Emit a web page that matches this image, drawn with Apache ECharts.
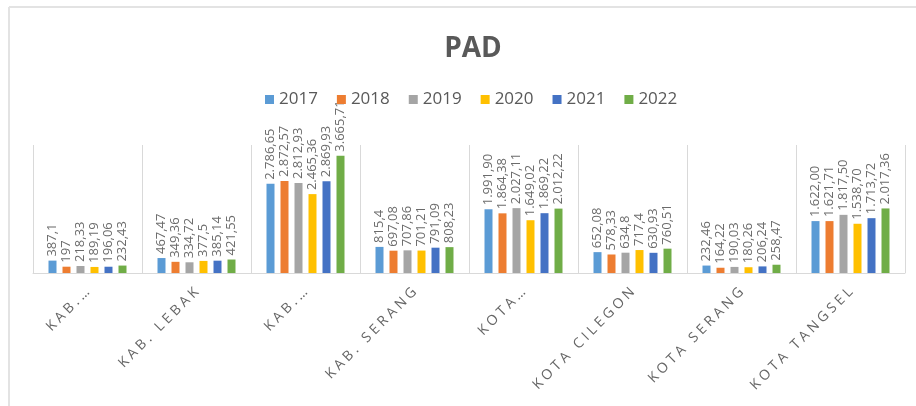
<!DOCTYPE html>
<html lang="en">
<head>
    <meta charset="UTF-8">
    <title>PAD</title>
    <script src="https://cdn.jsdelivr.net/npm/echarts@6/dist/echarts.min.js"></script>
    <style>
        html, body { margin: 0; padding: 0; background: #fff; }
        #chart { width: 916px; height: 406px; }
    </style>
</head>
<body>
<div id="chart"></div>
<script>
  // kabupaten / kota
  var categories = ['KAB.…', 'KAB. LEBAK', 'KAB.…', 'KAB. SERANG', 'KOTA…', 'KOTA CILEGON', 'KOTA SERANG', 'KOTA TANGSEL'];

  var years = ['2017', '2018', '2019', '2020', '2021', '2022'];

  var pad2017 = [387.1, 467.47, 2786.65, 815.4, 1991.90, 652.08, 232.46, 1622.00];
  var pad2018 = [197, 349.36, 2872.57, 697.08, 1864.38, 578.33, 164.22, 1621.71];
  var pad2019 = [218.33, 334.72, 2812.93, 707.86, 2027.11, 634.8, 190.03, 1817.50];
  var pad2020 = [189.19, 377.5, 2465.36, 701.21, 1649.02, 717.4, 180.26, 1538.70];
  var pad2021 = [196.06, 385.14, 2869.93, 791.09, 1869.22, 630.93, 206.24, 1713.72];
  var pad2022 = [232.43, 421.55, 3665.71, 808.23, 2012.22, 760.51, 258.47, 2017.36];

  var colors = ['#5B9BD5', '#ED7D31', '#A5A5A5', '#FFC000', '#4472C4', '#70AD47'];
  var font = 'Open Sans';

  // 2.786,65 style for thousands, 387,1 style below that
  function fmt(v) {
    if (v >= 1000) {
      var p = v.toFixed(2).split('.');
      return p[0].replace(/\B(?=(\d{3})+(?!\d))/g, '.') + ',' + p[1];
    }
    return String(v).replace('.', ',');
  }

  // excel draws the category names with wide tracking
  function spaced(s) {
    return s.split('').join('\u2005');
  }

  var allData = [pad2017, pad2018, pad2019, pad2020, pad2021, pad2022];

  var series = years.map(function (y, i) {
    return {
      name: y,
      type: 'bar',
      data: allData[i],
      barWidth: 8,
      barGap: '75%',
      itemStyle: { color: colors[i] },
      label: {
        show: true,
        position: 'top',
        rotate: 90,
        align: 'left',
        verticalAlign: 'middle',
        distance: 4,
        color: '#6b6b6b',
        fontFamily: font,
        fontSize: 13,
        formatter: function (p) { return fmt(p.value); }
      }
    };
  });

  var myChart = echarts.init(document.getElementById('chart'));

  myChart.setOption({
    animation: false,
    title: {
      text: 'PAD',
      left: 468,
      top: 30,
      textAlign: 'center',
      textStyle: { color: '#595959', fontSize: 28, fontWeight: 'bold', fontFamily: font }
    },
    legend: {
      data: years,
      left: 265,
      top: 91,
      padding: 0,
      itemWidth: 9,
      itemHeight: 9,
      itemGap: 19,
      icon: 'rect',
      textStyle: { color: '#595959', fontSize: 17, fontFamily: font }
    },
    grid: {
      left: 33,
      right: 11,
      top: 145,
      bottom: 133
    },
    xAxis: {
      type: 'category',
      data: categories,
      axisLine: { lineStyle: { color: '#d9d9d9' } },
      axisTick: { show: false },
      splitLine: { show: true, lineStyle: { color: '#d9d9d9' } },
      axisLabel: {
        rotate: 45,
        interval: 0,
        margin: 17,
        color: '#666666',
        fontFamily: font,
        fontSize: 14,
        formatter: spaced
      }
    },
    yAxis: {
      type: 'value',
      min: 0,
      max: 4000,
      show: false,
      splitLine: { show: false }
    },
    graphic: [
      { type: 'line', shape: { x1: 9, y1: 7, x2: 916, y2: 7 }, style: { stroke: '#e3e3e3', lineWidth: 2 } },
      { type: 'line', shape: { x1: 9, y1: 7, x2: 9, y2: 406 }, style: { stroke: '#e3e3e3', lineWidth: 2 } }
    ],
    series: series
  });
</script>
</body>
</html>
